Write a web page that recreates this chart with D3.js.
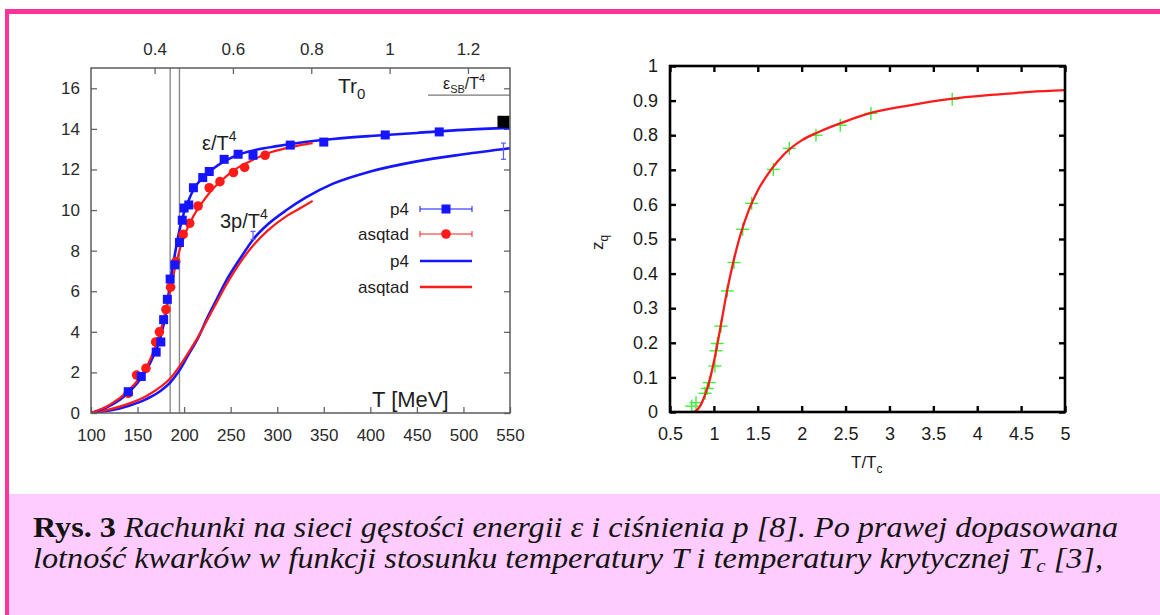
<!doctype html>
<html>
<head>
<meta charset="utf-8">
<title>Rys. 3</title>
<script src="https://cdn.jsdelivr.net/npm/d3@7"></script>
<style>
    html, body { margin: 0; padding: 0; background: #fff; }
    svg { display: block; }
    .sans { font-family: "Liberation Sans", Arial, sans-serif; }
    .serif { font-family: "Liberation Serif", "Times New Roman", serif; }
</style>
</head>
<body>
<svg id="chart" width="1160" height="615"></svg>
<script>
// ---- left panel data (lattice QCD, energy density & pressure) ----
var tempTicks = [100, 150, 200, 250, 300, 350, 400, 450, 500, 550];
var epsTicks = [0, 2, 4, 6, 8, 10, 12, 14, 16];
var trTicks = [0.4, 0.6, 0.8, 1, 1.2];
var tcLines = [185, 195];
var epsSB = 15.66;

var p4EpsT = [140, 154, 170, 175, 178, 182, 185, 190, 195, 198, 200, 205, 210, 220, 227, 243, 258, 274, 314, 350, 416, 474];
var p4EpsV = [1.05, 1.8, 3.0, 3.5, 4.6, 5.6, 6.6, 7.3, 8.4, 9.5, 10.1, 10.25, 11.1, 11.6, 11.9, 12.5, 12.75, 12.7, 13.2, 13.35, 13.7, 13.85];
var asqEpsT = [140, 149, 159, 169.5, 173.5, 180.5, 185.5, 191, 199, 206, 215, 227, 238.5, 253, 265, 287];
var asqEpsV = [0.97, 1.87, 2.2, 3.5, 4.0, 5.1, 6.2, 7.45, 8.8, 9.35, 10.2, 11.1, 11.4, 11.85, 12.1, 12.7];

var p4EpsFitT = [100, 120, 140, 155, 165, 175, 180, 185, 190, 195, 200, 205, 210, 220, 230, 245, 260, 280, 300, 330, 360, 400, 450, 500, 550];
var p4EpsFitV = [0, 0.35, 1.0, 1.8, 2.6, 3.8, 4.8, 6.4, 7.8, 9.0, 9.9, 10.5, 11.0, 11.6, 12.0, 12.45, 12.75, 13.0, 13.15, 13.35, 13.5, 13.65, 13.8, 13.95, 14.05];
var asqEpsFitT = [100, 120, 140, 150, 160, 170, 175, 180, 185, 190, 195, 200, 210, 220, 230, 240, 250, 260, 275, 290, 310, 325, 338];
var asqEpsFitV = [0, 0.4, 1.1, 1.6, 2.3, 3.4, 4.1, 5.0, 6.0, 7.1, 8.0, 8.7, 9.7, 10.4, 11.0, 11.45, 11.85, 12.15, 12.5, 12.8, 13.05, 13.2, 13.3];

var p4PresT = [100, 120, 140, 160, 175, 185, 195, 205, 215, 225, 235, 245, 260, 275, 290, 310, 330, 360, 400, 450, 500, 550];
var p4PresV = [0, 0.12, 0.35, 0.7, 1.1, 1.5, 2.1, 2.9, 3.7, 4.7, 5.6, 6.5, 7.6, 8.6, 9.3, 10.0, 10.6, 11.3, 11.9, 12.4, 12.75, 13.05];
var asqPresT = [100, 120, 140, 160, 175, 185, 195, 205, 215, 225, 235, 245, 260, 275, 290, 310, 325, 338];
var asqPresV = [0, 0.18, 0.45, 0.85, 1.3, 1.7, 2.3, 3.0, 3.75, 4.6, 5.45, 6.3, 7.4, 8.3, 9.0, 9.7, 10.1, 10.45];

var presErrT = [274, 543];
var presErrV = [8.75, 12.9];
var presErrD = [0.2, 0.4];
var sbMarkT = 543, sbMarkV = 14.35;

var legendNames = ['p4', 'asqtad', 'p4', 'asqtad'];

// ---- right panel data (quark fugacity z_q vs T/Tc) ----
var ratioTicks = [0.5, 1, 1.5, 2, 2.5, 3, 3.5, 4, 4.5, 5];
var zqTicks = [0, 0.1, 0.2, 0.3, 0.4, 0.5, 0.6, 0.7, 0.8, 0.9, 1];
var zqPtsX = [0.747, 0.796, 0.899, 0.925, 0.948, 1.012, 1.024, 1.039, 1.081, 1.153, 1.229, 1.328, 1.43, 1.677, 1.859, 2.163, 2.44, 2.789, 3.715];
var zqPtsY = [0.017, 0.027, 0.054, 0.068, 0.085, 0.133, 0.177, 0.198, 0.248, 0.35, 0.432, 0.528, 0.603, 0.701, 0.762, 0.80, 0.829, 0.863, 0.904];
var zqFitX = [0.78, 0.85, 0.9, 0.95, 1.0, 1.05, 1.1, 1.15, 1.2, 1.3, 1.4, 1.5, 1.65, 1.8, 2.0, 2.2, 2.5, 2.8, 3.2, 3.7, 4.2, 4.6, 5.0];
var zqFitY = [0, 0.02, 0.05, 0.09, 0.145, 0.21, 0.28, 0.35, 0.41, 0.51, 0.585, 0.64, 0.70, 0.745, 0.785, 0.81, 0.84, 0.865, 0.885, 0.905, 0.917, 0.925, 0.93];

var blue = '#1515ff', red = '#ff1a1a', green = '#3cf03c';

var svg = d3.select('#chart');

// page frame and caption box
svg.append('rect').attr('x', 5).attr('y', 9).attr('width', 1155).attr('height', 5).attr('fill', '#ff3399');
svg.append('rect').attr('x', 5).attr('y', 9).attr('width', 4).attr('height', 606).attr('fill', '#ff3399');
svg.append('rect').attr('x', 9).attr('y', 494).attr('width', 1151).attr('height', 121).attr('fill', '#ffccff');

function zip(a, b) {
    return a.map(function(v, i) { return [v, b[i]]; });
}

// ================= left panel =================
var xL = d3.scaleLinear().domain([100, 550]).range([91, 510]);
var yL = d3.scaleLinear().domain([0, 17]).range([413, 68]);
var xTop = d3.scaleLinear().domain([100 / 420.7, 550 / 420.7]).range([91, 510]);

var left = svg.append('g').attr('class', 'sans');

function styleAxis(g, col, size) {
    g.attr('font-family', null).attr('font-size', null);
    g.select('.domain').remove();
    g.selectAll('line').attr('stroke', col).attr('stroke-width', 1.3);
    g.selectAll('text').attr('class', 'sans').attr('fill', '#2a2a2a').style('font-size', size + 'px');
}

left.append('g').attr('transform', 'translate(0,413)')
    .call(d3.axisBottom(xL).tickValues(tempTicks).tickSize(-6).tickPadding(16))
    .call(styleAxis, '#666', 17);
left.append('g').attr('transform', 'translate(0,68)')
    .call(d3.axisTop(xTop).tickValues(trTicks).tickSize(-6).tickPadding(13).tickFormat(d3.format('')))
    .call(styleAxis, '#666', 17);
left.append('g').attr('transform', 'translate(91,0)')
    .call(d3.axisLeft(yL).tickValues(epsTicks).tickSize(-6).tickPadding(11))
    .call(styleAxis, '#666', 17);
left.append('g').attr('transform', 'translate(510,0)')
    .call(d3.axisRight(yL).tickValues(epsTicks).tickSize(-6).tickFormat(''))
    .call(styleAxis, '#666', 17);

left.append('defs').append('clipPath').attr('id', 'clipL')
    .append('rect').attr('x', 91).attr('y', 68).attr('width', 419).attr('height', 345);

var plotL = left.append('g').attr('clip-path', 'url(#clipL)');

// Tc lines
plotL.selectAll('.tc').data(tcLines).enter().append('line')
    .attr('x1', d => xL(d)).attr('x2', d => xL(d))
    .attr('y1', yL(17)).attr('y2', yL(0))
    .attr('stroke', '#8a8a8a').attr('stroke-width', 1.4);

// SB limit
plotL.append('line')
    .attr('x1', xL(462)).attr('x2', xL(550))
    .attr('y1', yL(epsSB)).attr('y2', yL(epsSB))
    .attr('stroke', '#777').attr('stroke-width', 1.3);

var lineL = d3.line().x(d => xL(d[0])).y(d => yL(d[1])).curve(d3.curveMonotoneX);

plotL.append('path').datum(zip(p4PresT, p4PresV)).attr('d', lineL)
    .attr('fill', 'none').attr('stroke', blue).attr('stroke-width', 2.6);
plotL.append('path').datum(zip(asqPresT, asqPresV)).attr('d', lineL)
    .attr('fill', 'none').attr('stroke', red).attr('stroke-width', 2.2);
plotL.append('path').datum(zip(p4EpsFitT, p4EpsFitV)).attr('d', lineL)
    .attr('fill', 'none').attr('stroke', blue).attr('stroke-width', 2.6);
plotL.append('path').datum(zip(asqEpsFitT, asqEpsFitV)).attr('d', lineL)
    .attr('fill', 'none').attr('stroke', red).attr('stroke-width', 2.2);

// pressure error bars
presErrT.forEach(function(t, i) {
    var g = plotL.append('g').attr('stroke', '#5a5aff').attr('stroke-width', 1.2);
    var x = xL(t), y0 = yL(presErrV[i] - presErrD[i]), y1 = yL(presErrV[i] + presErrD[i]);
    g.append('line').attr('x1', x).attr('x2', x).attr('y1', y0).attr('y2', y1);
    g.append('line').attr('x1', x - 2.5).attr('x2', x + 2.5).attr('y1', y0).attr('y2', y0);
    g.append('line').attr('x1', x - 2.5).attr('x2', x + 2.5).attr('y1', y1).attr('y2', y1);
});

// data points
plotL.selectAll('.asq').data(zip(asqEpsT, asqEpsV)).enter().append('circle')
    .attr('cx', d => xL(d[0])).attr('cy', d => yL(d[1])).attr('r', 4.8).attr('fill', red);
plotL.selectAll('.p4').data(zip(p4EpsT, p4EpsV)).enter().append('rect')
    .attr('x', d => xL(d[0]) - 4.5).attr('y', d => yL(d[1]) - 4.5)
    .attr('width', 9).attr('height', 9).attr('fill', blue);

// SB marker
plotL.append('rect')
    .attr('x', xL(sbMarkT) - 6).attr('y', yL(sbMarkV) - 6)
    .attr('width', 12).attr('height', 12).attr('fill', '#000');

// frame
left.append('rect').attr('x', 91).attr('y', 68).attr('width', 419).attr('height', 345)
    .attr('fill', 'none').attr('stroke', '#5c5c5c').attr('stroke-width', 1.5);

// labels
var lab = left.append('g').attr('fill', '#1e1e1e');
var t1 = lab.append('text').attr('x', 338).attr('y', 93).style('font-size', '21px').text('Tr');
t1.append('tspan').attr('dy', 6).style('font-size', '15px').text('0');
var t2 = lab.append('text').attr('x', 443).attr('y', 89).style('font-size', '16px').text('ε');
t2.append('tspan').attr('dy', 4).style('font-size', '11px').text('SB');
t2.append('tspan').attr('dy', -4).text('/T');
t2.append('tspan').attr('dy', -7).style('font-size', '11px').text('4');
var t3 = lab.append('text').attr('x', 202).attr('y', 150).style('font-size', '20px').text('ε/T');
t3.append('tspan').attr('dy', -9).style('font-size', '14px').text('4');
var t4 = lab.append('text').attr('x', 220).attr('y', 228).style('font-size', '20px').text('3p/T');
t4.append('tspan').attr('dy', -9).style('font-size', '14px').text('4');
lab.append('text').attr('x', 372).attr('y', 407).style('font-size', '22px').text('T [MeV]');

// legend
var legY = [209, 234, 261, 287];
var leg = left.append('g');
legendNames.forEach(function(name, i) {
    var y = legY[i];
    var col = (i % 2 === 0) ? blue : red;
    leg.append('text').attr('x', 409).attr('y', y + 6).attr('text-anchor', 'end')
        .style('font-size', '17px').attr('fill', '#1e1e1e').text(name);
    if (i < 2) {
        var g = leg.append('g').attr('stroke', col).attr('stroke-width', 1);
        g.append('line').attr('x1', 420).attr('x2', 472).attr('y1', y).attr('y2', y);
        g.append('line').attr('x1', 420).attr('x2', 420).attr('y1', y - 3).attr('y2', y + 3);
        g.append('line').attr('x1', 472).attr('x2', 472).attr('y1', y - 3).attr('y2', y + 3);
        if (i === 0) {
            leg.append('rect').attr('x', 441.5).attr('y', y - 4.5).attr('width', 9).attr('height', 9).attr('fill', col);
        } else {
            leg.append('circle').attr('cx', 446).attr('cy', y).attr('r', 4.8).attr('fill', col);
        }
    } else {
        leg.append('line').attr('x1', 420).attr('x2', 472).attr('y1', y).attr('y2', y)
            .attr('stroke', col).attr('stroke-width', 2.6);
    }
});

// ================= right panel =================
var xR = d3.scaleLinear().domain([0.5, 5]).range([670, 1065]);
var yR = d3.scaleLinear().domain([0, 1]).range([412, 66]);

var right = svg.append('g').attr('class', 'sans');

function styleAxisR(g) {
    g.attr('font-family', null).attr('font-size', null);
    g.select('.domain').remove();
    g.selectAll('line').attr('stroke', '#000').attr('stroke-width', 2.4);
    g.selectAll('text').attr('class', 'sans').attr('fill', '#1a1a1a').style('font-size', '18px');
}

right.append('g').attr('transform', 'translate(0,412)')
    .call(d3.axisBottom(xR).tickValues(ratioTicks).tickSize(-6).tickPadding(15).tickFormat(d3.format('')))
    .call(styleAxisR);
right.append('g').attr('transform', 'translate(0,66)')
    .call(d3.axisTop(xR).tickValues(ratioTicks).tickSize(-6).tickFormat(''))
    .call(styleAxisR);
right.append('g').attr('transform', 'translate(670,0)')
    .call(d3.axisLeft(yR).tickValues(zqTicks).tickSize(-6).tickPadding(12).tickFormat(d3.format('')))
    .call(styleAxisR);
right.append('g').attr('transform', 'translate(1065,0)')
    .call(d3.axisRight(yR).tickValues(zqTicks).tickSize(-6).tickFormat(''))
    .call(styleAxisR);

var lineR = d3.line().x(d => xR(d[0])).y(d => yR(d[1])).curve(d3.curveMonotoneX);

// data crosses
var crosses = right.append('g').attr('stroke', green).attr('stroke-width', 1.4);
zip(zqPtsX, zqPtsY).forEach(function(d) {
    var x = xR(d[0]), y = yR(d[1]);
    crosses.append('line').attr('x1', x - 6.5).attr('x2', x + 6.5).attr('y1', y).attr('y2', y);
    crosses.append('line').attr('x1', x).attr('x2', x).attr('y1', y - 6.5).attr('y2', y + 6.5);
});

right.append('path').datum(zip(zqFitX, zqFitY)).attr('d', lineR)
    .attr('fill', 'none').attr('stroke', red).attr('stroke-width', 2.3);

right.append('rect').attr('x', 670).attr('y', 66).attr('width', 395).attr('height', 346)
    .attr('fill', 'none').attr('stroke', '#000').attr('stroke-width', 2.6);

var zl = right.append('text').attr('transform', 'translate(603,250) rotate(-90)')
    .style('font-size', '17px').attr('fill', '#1a1a1a').text('z');
zl.append('tspan').attr('dy', 5).style('font-size', '12px').text('q');
var tl = right.append('text').attr('x', 851).attr('y', 468)
    .style('font-size', '17px').attr('fill', '#1a1a1a').text('T/T');
tl.append('tspan').attr('dy', 5).style('font-size', '12px').text('c');

// ================= caption =================
var c1 = svg.append('text').attr('class', 'serif').attr('x', 33).attr('y', 537)
    .style('font-size', '29px').attr('fill', '#141414')
    .attr('textLength', 1085).attr('lengthAdjust', 'spacingAndGlyphs');
c1.append('tspan').attr('font-weight', 'bold').text('Rys. 3 ');
c1.append('tspan').attr('font-style', 'italic')
    .text('Rachunki na sieci gęstości energii ε  i ciśnienia p [8]. Po prawej dopasowana');

var c2 = svg.append('text').attr('class', 'serif').attr('x', 33).attr('y', 568)
    .style('font-size', '29px').attr('fill', '#141414').attr('font-style', 'italic')
    .attr('textLength', 1070).attr('lengthAdjust', 'spacingAndGlyphs');
c2.append('tspan').text('lotność kwarków w funkcji stosunku temperatury T  i  temperatury krytycznej T');
c2.append('tspan').attr('dy', 4).style('font-size', '19px').text('c');
c2.append('tspan').attr('dy', -4).text(' [3],');
</script>
</body>
</html>
